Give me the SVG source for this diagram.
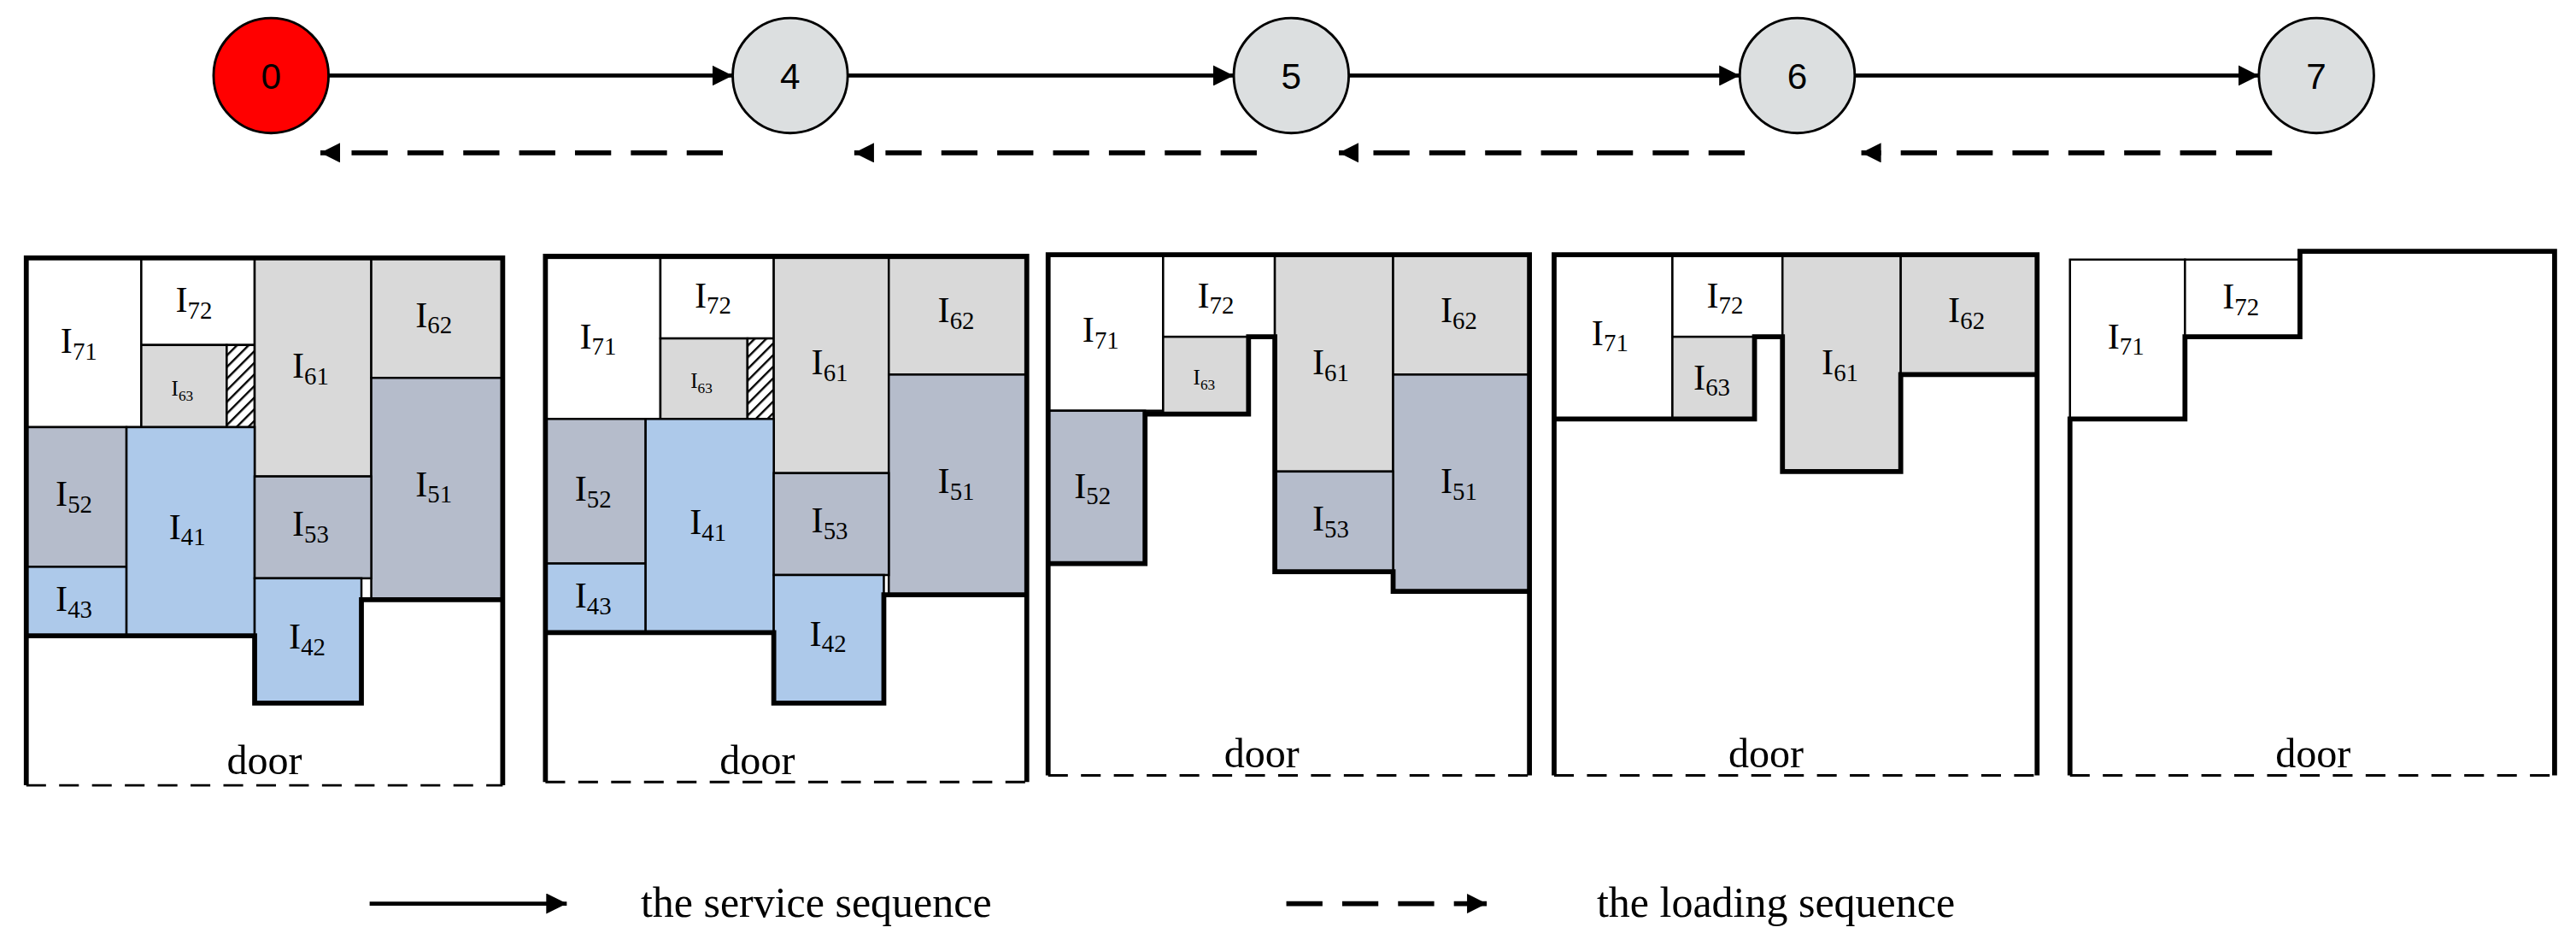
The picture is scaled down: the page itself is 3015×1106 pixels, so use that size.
<svg xmlns="http://www.w3.org/2000/svg" width="3015" height="1106" viewBox="0 0 3015 1106">
<style>
.w{fill:#fff;stroke:#000;stroke-width:1.3}
.lg{fill:#d9d9d9;stroke:#000;stroke-width:1.3}
.gb{fill:#b5bccb;stroke:#000;stroke-width:1.3}
.b{fill:#adc9ea;stroke:#000;stroke-width:1.3}
.h{fill:url(#hatch);stroke:#000;stroke-width:1.3}
.lb{font-family:"Liberation Serif",serif;font-size:22px;text-anchor:middle;fill:#000}
.sm{font-family:"Liberation Serif",serif;font-size:13px;text-anchor:middle;fill:#000}
.wall{fill:none;stroke:#000;stroke-width:3;stroke-linejoin:miter}
.dash{fill:none;stroke:#000;stroke-width:1.5;stroke-dasharray:12,8}
.door{font-family:"Liberation Serif",serif;font-size:25px;text-anchor:middle}
.nd{font-family:"Liberation Sans",sans-serif;font-size:22px;text-anchor:middle}
.sol{stroke:#000;stroke-width:2.5;fill:none}
.dsh{stroke:#000;stroke-width:3;stroke-dasharray:22,12;fill:none}
.leg{font-family:"Liberation Serif",serif;font-size:26px}
</style>
<defs>
<pattern id="hatch" width="5" height="5" patternUnits="userSpaceOnUse" patternTransform="rotate(-45)">
<rect width="5" height="5" fill="#fff"/><line x1="0" y1="0" x2="5" y2="0" stroke="#000" stroke-width="2.5"/>
</pattern>
<marker id="ah" viewBox="0 0 10 10" refX="10" refY="5" markerWidth="5" markerHeight="5" orient="auto" markerUnits="strokeWidth"><path d="M0,0 L10,5 L0,10 z"/></marker>
<marker id="ahd" viewBox="0 0 10 10" refX="10" refY="5" markerWidth="4" markerHeight="4" orient="auto" markerUnits="strokeWidth"><path d="M0,0 L10,5 L0,10 z"/></marker>
</defs>
<g transform="scale(1.9228)">
<g id="connectors">
<line class="sol" x1="200" y1="46" x2="446" y2="46" marker-end="url(#ah)"/>
<line class="sol" x1="516" y1="46" x2="751" y2="46" marker-end="url(#ah)"/>
<line class="sol" x1="821" y1="46" x2="1059" y2="46" marker-end="url(#ah)"/>
<line class="sol" x1="1129" y1="46" x2="1375" y2="46" marker-end="url(#ah)"/>
<line class="dsh" x1="440" y1="93" x2="195" y2="93" marker-end="url(#ahd)"/>
<line class="dsh" x1="765" y1="93" x2="520" y2="93" marker-end="url(#ahd)"/>
<line class="dsh" x1="1062" y1="93" x2="815" y2="93" marker-end="url(#ahd)"/>
<line class="dsh" x1="1383" y1="93" x2="1133" y2="93" marker-end="url(#ahd)"/>
</g>
<g id="node0"><circle cx="165" cy="46" r="35" fill="#ff0000" stroke="#000" stroke-width="1.5"/><text class="nd" x="165" y="54">0</text></g>
<g id="node4"><circle cx="481" cy="46" r="35" fill="#dcdfe0" stroke="#000" stroke-width="1.5"/><text class="nd" x="481" y="54">4</text></g>
<g id="node5"><circle cx="786" cy="46" r="35" fill="#dcdfe0" stroke="#000" stroke-width="1.5"/><text class="nd" x="786" y="54">5</text></g>
<g id="node6"><circle cx="1094" cy="46" r="35" fill="#dcdfe0" stroke="#000" stroke-width="1.5"/><text class="nd" x="1094" y="54">6</text></g>
<g id="node7"><circle cx="1410" cy="46" r="35" fill="#dcdfe0" stroke="#000" stroke-width="1.5"/><text class="nd" x="1410" y="54">7</text></g>

<g id="box1">
<rect class="w" x="16" y="157" width="70" height="103"/><text class="lb" x="48" y="215">I<tspan font-size="15" dy="4">71</tspan></text>
<rect class="w" x="86" y="157" width="69" height="53"/><text class="lb" x="118" y="190">I<tspan font-size="15" dy="4">72</tspan></text>
<rect class="lg" x="86" y="210" width="52" height="50"/><text class="sm" x="111" y="241">I<tspan font-size="9" dy="3">63</tspan></text>
<rect class="h" x="138" y="210" width="17" height="50"/>
<rect class="lg" x="155" y="157" width="71" height="133"/><text class="lb" x="189" y="230">I<tspan font-size="15" dy="4">61</tspan></text>
<rect class="lg" x="226" y="157" width="80" height="73"/><text class="lb" x="264" y="199">I<tspan font-size="15" dy="4">62</tspan></text>
<rect class="gb" x="226" y="230" width="80" height="135"/><text class="lb" x="264" y="302">I<tspan font-size="15" dy="4">51</tspan></text>
<rect class="gb" x="16" y="260" width="61" height="85"/><text class="lb" x="45" y="308">I<tspan font-size="15" dy="4">52</tspan></text>
<rect class="b" x="16" y="345" width="61" height="42"/><text class="lb" x="45" y="372">I<tspan font-size="15" dy="4">43</tspan></text>
<rect class="b" x="77" y="260" width="78" height="127"/><text class="lb" x="114" y="328">I<tspan font-size="15" dy="4">41</tspan></text>
<rect class="gb" x="155" y="290" width="71" height="62"/><text class="lb" x="189" y="326">I<tspan font-size="15" dy="4">53</tspan></text>
<rect class="b" x="155" y="352" width="65" height="76"/><text class="lb" x="187" y="395">I<tspan font-size="15" dy="4">42</tspan></text>
<polyline class="wall" points="16,478 16,157 306,157 306,478"/>
<polyline class="wall" points="16,387 155,387 155,428 220,428 220,365 306,365"/>
<line class="dash" x1="16" y1="478" x2="306" y2="478"/>
<text class="door" x="161" y="471">door</text>
</g>

<g id="box2">
<rect class="w" x="332" y="157" width="70" height="98"/><text class="lb" x="364" y="212">I<tspan font-size="15" dy="4">71</tspan></text>
<rect class="w" x="402" y="157" width="69" height="49"/><text class="lb" x="434" y="187">I<tspan font-size="15" dy="4">72</tspan></text>
<rect class="lg" x="402" y="206" width="53" height="49"/><text class="sm" x="427" y="236">I<tspan font-size="9" dy="3">63</tspan></text>
<rect class="h" x="455" y="206" width="16" height="49"/>
<rect class="lg" x="471" y="157" width="70" height="131"/><text class="lb" x="505" y="228">I<tspan font-size="15" dy="4">61</tspan></text>
<rect class="lg" x="541" y="157" width="84" height="71"/><text class="lb" x="582" y="196">I<tspan font-size="15" dy="4">62</tspan></text>
<rect class="gb" x="541" y="228" width="84" height="134"/><text class="lb" x="582" y="300">I<tspan font-size="15" dy="4">51</tspan></text>
<rect class="gb" x="332" y="255" width="61" height="88"/><text class="lb" x="361" y="305">I<tspan font-size="15" dy="4">52</tspan></text>
<rect class="b" x="332" y="343" width="61" height="42"/><text class="lb" x="361" y="370">I<tspan font-size="15" dy="4">43</tspan></text>
<rect class="b" x="393" y="255" width="78" height="130"/><text class="lb" x="431" y="325">I<tspan font-size="15" dy="4">41</tspan></text>
<rect class="gb" x="471" y="288" width="70" height="62"/><text class="lb" x="505" y="324">I<tspan font-size="15" dy="4">53</tspan></text>
<rect class="b" x="471" y="350" width="67" height="78"/><text class="lb" x="504" y="393">I<tspan font-size="15" dy="4">42</tspan></text>
<polyline class="wall" points="332,476 332,156 625,156 625,476"/>
<polyline class="wall" points="332,385 471,385 471,428 538,428 538,362 625,362"/>
<line class="dash" x1="332" y1="476" x2="625" y2="476"/>
<text class="door" x="461" y="471">door</text>
</g>

<g id="box3">
<rect class="w" x="638" y="155" width="70" height="95"/><text class="lb" x="670" y="208">I<tspan font-size="15" dy="4">71</tspan></text>
<rect class="w" x="708" y="155" width="68" height="50"/><text class="lb" x="740" y="187">I<tspan font-size="15" dy="4">72</tspan></text>
<rect class="lg" x="708" y="205" width="52" height="47"/><text class="sm" x="733" y="234">I<tspan font-size="9" dy="3">63</tspan></text>
<rect class="lg" x="776" y="155" width="72" height="132"/><text class="lb" x="810" y="228">I<tspan font-size="15" dy="4">61</tspan></text>
<rect class="lg" x="848" y="155" width="83" height="73"/><text class="lb" x="888" y="196">I<tspan font-size="15" dy="4">62</tspan></text>
<rect class="gb" x="848" y="228" width="83" height="132"/><text class="lb" x="888" y="300">I<tspan font-size="15" dy="4">51</tspan></text>
<rect class="gb" x="776" y="287" width="72" height="61"/><text class="lb" x="810" y="323">I<tspan font-size="15" dy="4">53</tspan></text>
<rect class="gb" x="638" y="250" width="59" height="93"/><text class="lb" x="665" y="303">I<tspan font-size="15" dy="4">52</tspan></text>
<polyline class="wall" points="638,472 638,155 931,155 931,472"/>
<polyline class="wall" points="638,343 697,343 697,252 760,252 760,205 776,205 776,348 848,348 848,360 931,360"/>
<line class="dash" x1="638" y1="472" x2="931" y2="472"/>
<text class="door" x="768" y="467">door</text>
</g>

<g id="box4">
<rect class="w" x="946" y="155" width="72" height="100"/><text class="lb" x="980" y="210">I<tspan font-size="15" dy="4">71</tspan></text>
<rect class="w" x="1018" y="155" width="67" height="50"/><text class="lb" x="1050" y="187">I<tspan font-size="15" dy="4">72</tspan></text>
<rect class="lg" x="1018" y="205" width="50" height="50"/><text class="lb" x="1042" y="237">I<tspan font-size="15" dy="4">63</tspan></text>
<rect class="lg" x="1085" y="155" width="72" height="132"/><text class="lb" x="1120" y="228">I<tspan font-size="15" dy="4">61</tspan></text>
<rect class="lg" x="1157" y="155" width="83" height="73"/><text class="lb" x="1197" y="196">I<tspan font-size="15" dy="4">62</tspan></text>
<polyline class="wall" points="946,472 946,155 1240,155 1240,472"/>
<polyline class="wall" points="946,255 1068,255 1068,205 1085,205 1085,287 1157,287 1157,228 1240,228"/>
<line class="dash" x1="946" y1="472" x2="1240" y2="472"/>
<text class="door" x="1075" y="467">door</text>
</g>

<g id="box5">
<rect class="w" x="1260" y="158" width="70" height="97"/><text class="lb" x="1294" y="212">I<tspan font-size="15" dy="4">71</tspan></text>
<rect class="w" x="1330" y="158" width="70" height="47"/><text class="lb" x="1364" y="188">I<tspan font-size="15" dy="4">72</tspan></text>
<polyline class="wall" points="1260,472 1260,255 1330,255 1330,205 1400,205 1400,153 1555,153 1555,472"/>
<line class="dash" x1="1260" y1="472" x2="1555" y2="472"/>
<text class="door" x="1408" y="467">door</text>
</g>

<g id="legend">
<line class="sol" x1="225" y1="550" x2="345" y2="550" marker-end="url(#ah)"/>
<text class="leg" x="390" y="558">the service sequence</text>
<line class="dsh" x1="783" y1="550" x2="905" y2="550" marker-end="url(#ahd)"/>
<text class="leg" x="972" y="558">the loading sequence</text>
</g>
</g>
</svg>
